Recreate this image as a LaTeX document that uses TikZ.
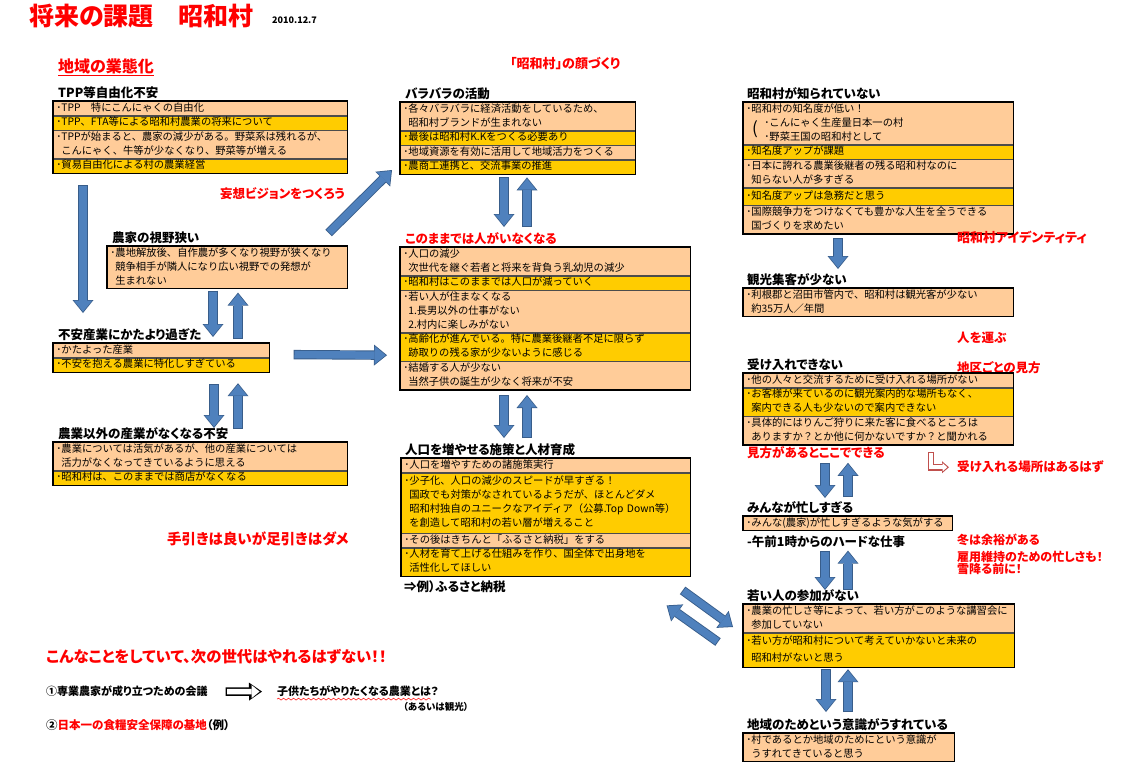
\documentclass[tikz,border=0pt]{standalone}
\usepackage{fontspec}
\setmainfont{Noto Sans CJK JP}
\newfontfamily\jpp[RawFeature=+palt]{Noto Sans CJK JP}
\usetikzlibrary{arrows.meta, positioning, decorations.pathmorphing}
\definecolor{peach}{HTML}{FFCC99}
\definecolor{gold}{HTML}{FFCC00}
\definecolor{barfill}{HTML}{4F81BD}
\definecolor{bardark}{HTML}{385D8A}
\definecolor{lred}{HTML}{C0504D}
\newcommand\rowtext{\fontsize{10.3}{14}\selectfont}
\newcommand\hdtext{\jpp\bfseries\fontsize{12.5}{14}\selectfont}
\newcommand\nxt{\\\hspace*{5pt}}

\begin{document}
\begin{tikzpicture}[
        x=1pt, y=-1pt,
        boxrow/.style={anchor=north west, text width=#1, inner xsep=3pt, inner ysep=0pt, align=left, draw=black!70, line width=0.6pt, font=\rowtext, execute at begin node=\strut, execute at end node=\strut},
        frame/.style={draw=black, line width=1.4pt},
        head/.style={font=\hdtext, inner sep=0pt},
        note/.style={font=\hdtext, text=red, inner sep=0pt, anchor=north west},
        barrow/.style={draw=barfill, line width=7.5pt, shorten <=0.9pt, shorten >=1.3pt, -{Triangle[width=18pt,length=11pt,line width=0pt]},
            preaction={draw=bardark, line width=9.3pt, shorten <=0pt, shorten >=0pt, -{Triangle[width=21pt,length=13pt,line width=0pt]}}},
        hollow/.style={draw=white, line width=5.5pt, shorten <=1.4pt, shorten >=2.4pt, -{Triangle[width=13pt,length=8pt,line width=0pt]},
            preaction={draw=black, line width=8.5pt, shorten <=0pt, shorten >=0pt, -{Triangle[width=18pt,length=13pt,line width=0pt]}}},
        lhollow/.style={draw=white, line width=4pt, shorten <=1.2pt, shorten >=1.8pt, -{Triangle[width=8pt,length=4.5pt,line width=0pt]},
            preaction={draw=lred, line width=6.6pt, shorten <=0pt, shorten >=0pt, -{Triangle[width=12pt,length=7pt,line width=0pt]}}}
    ]
        \fill[white] (0,0) rectangle (1133,776);
        \useasboundingbox (0,0) rectangle (1133,776);

        \node[note, font=\jpp\bfseries\fontsize{25}{28}\selectfont] (title) at (29,4) {将来の課題　昭和村};
        \node[note, text=black, font=\bfseries\fontsize{9}{10}\selectfont] (date) at (272,17) {2010.12.7};
        \node[note, font=\jpp\bfseries\fontsize{16}{18}\selectfont] (gyotai) at (58,59) {地域の業態化};
        \draw[red, line width=0.9pt] ([yshift=-1pt]gyotai.south west) -- ([yshift=-1pt]gyotai.south east);

        % left column
        \node[boxrow=288pt, fill=peach] (tpp1) at (53,101) {･TPP　特にこんにゃくの自由化};
        \node[boxrow=288pt, fill=gold, below right=0pt and 0pt of tpp1.south west] (tpp2) {･TPP、FTA等による昭和村農業の将来について};
        \node[boxrow=288pt, fill=peach, below right=0pt and 0pt of tpp2.south west] (tpp3) {･TPPが始まると、農家の減少がある。野菜系は残れるが、\nxt こんにゃく、牛等が少なくなり、野菜等が増える};
        \node[boxrow=288pt, fill=gold, below right=0pt and 0pt of tpp3.south west] (tpp4) {･貿易自由化による村の農業経営};
        \draw[frame] (tpp1.north west) rectangle (tpp4.south east);
        \node[head, above right=2pt and 5pt of tpp1.north west] (tpph) {TPP等自由化不安};

        \node[boxrow=234pt, fill=peach] (nouka1) at (107,246) {･農地解放後、自作農が多くなり視野が狭くなり\nxt 競争相手が隣人になり広い視野での発想が\nxt 生まれない};
        \draw[frame] (nouka1.north west) rectangle (nouka1.south east);
        \node[head, above right=2pt and 5pt of nouka1.north west] (noukah) {農家の視野狭い};

        \node[boxrow=210pt, fill=peach] (fuan1) at (53,343) {･かたよった産業};
        \node[boxrow=210pt, fill=gold, below right=0pt and 0pt of fuan1.south west] (fuan2) {･不安を抱える農業に特化しすぎている};
        \draw[frame] (fuan1.north west) rectangle (fuan2.south east);
        \node[head, above right=2pt and 5pt of fuan1.north west] (fuanh) {不安産業にかたより過ぎた};

        \node[boxrow=288pt, fill=peach] (gai1) at (53,442) {･農業については活気があるが、他の産業については\nxt 活力がなくなってきているように思える};
        \node[boxrow=288pt, fill=gold, below right=0pt and 0pt of gai1.south west] (gai2) {･昭和村は、このままでは商店がなくなる};
        \draw[frame] (gai1.north west) rectangle (gai2.south east);
        \node[head, above right=2pt and 5pt of gai1.north west] (gaih) {農業以外の産業がなくなる不安};

        \node[note] (mousou) at (220,187) {妄想ビジョンをつくろう};
        \node[note, font=\jpp\bfseries\fontsize{14.5}{16}\selectfont] (tebiki) at (167,532) {手引きは良いが足引きはダメ};

        % centre column
        \node[note, font=\jpp\bfseries\fontsize{13}{15}\selectfont] (kao) at (510,57) {「昭和村」の顔づくり};
        \node[boxrow=229pt, fill=peach] (bara1) at (400,102) {･各々バラバラに経済活動をしているため、\nxt 昭和村ブランドが生まれない};
        \node[boxrow=229pt, fill=gold, below right=0pt and 0pt of bara1.south west] (bara2) {･最後は昭和村K.Kをつくる必要あり};
        \node[boxrow=229pt, fill=peach, below right=0pt and 0pt of bara2.south west] (bara3) {･地域資源を有効に活用して地域活力をつくる};
        \node[boxrow=229pt, fill=gold, below right=0pt and 0pt of bara3.south west] (bara4) {･農商工連携と、交流事業の推進};
        \draw[frame] (bara1.north west) rectangle (bara4.south east);
        \node[head, above right=2pt and 5pt of bara1.north west] (barah) {バラバラの活動};

        \node[boxrow=284pt, fill=peach] (kono1) at (400,247) {･人口の減少\nxt 次世代を継ぐ若者と将来を背負う乳幼児の減少};
        \node[boxrow=284pt, fill=gold, below right=0pt and 0pt of kono1.south west] (kono2) {･昭和村はこのままでは人口が減っていく};
        \node[boxrow=284pt, fill=peach, below right=0pt and 0pt of kono2.south west] (kono3) {･若い人が住まなくなる\nxt 1.長男以外の仕事がない\nxt 2.村内に楽しみがない};
        \node[boxrow=284pt, fill=gold, below right=0pt and 0pt of kono3.south west] (kono4) {･高齢化が進んでいる。特に農業後継者不足に限らず\nxt 跡取りの残る家が少ないように感じる};
        \node[boxrow=284pt, fill=peach, below right=0pt and 0pt of kono4.south west] (kono5) {･結婚する人が少ない\nxt 当然子供の誕生が少なく将来が不安};
        \draw[frame] (kono1.north west) rectangle (kono5.south east);
        \node[head, text=red, above right=2pt and 5pt of kono1.north west] (konoh) {このままでは人がいなくなる};

        \node[boxrow=283pt, fill=peach] (zo1) at (401,458) {･人口を増やすための諸施策実行};
        \node[boxrow=283pt, fill=gold, inner ysep=2pt, below right=0pt and 0pt of zo1.south west] (zo2) {･少子化、人口の減少のスピードが早すぎる！\nxt 国政でも対策がなされているようだが、ほとんどダメ\nxt 昭和村独自のユニークなアイディア（公募.Top Down等）\nxt を創造して昭和村の若い層が増えること};
        \node[boxrow=283pt, fill=peach, below right=0pt and 0pt of zo2.south west] (zo3) {･その後はきちんと「ふるさと納税」をする};
        \node[boxrow=283pt, fill=gold, below right=0pt and 0pt of zo3.south west] (zo4) {･人材を育て上げる仕組みを作り、国全体で出身地を\nxt 活性化してほしい};
        \draw[frame] (zo1.north west) rectangle (zo4.south east);
        \node[head, above right=2pt and 4pt of zo1.north west] (zoh) {人口を増やせる施策と人材育成};
        \node[head, below right=4pt and 3pt of zo4.south west] (furusato) {⇒例）ふるさと納税};

        % right column
        \node[boxrow=264pt, fill=peach] (know1) at (743,102) {･昭和村の知名度が低い！\\\hspace*{18pt}･こんにゃく生産量日本一の村\\\hspace*{18pt}･野菜王国の昭和村として};
        \node[boxrow=264pt, fill=gold, below right=0pt and 0pt of know1.south west] (know2) {･知名度アップが課題};
        \node[boxrow=264pt, fill=peach, below right=0pt and 0pt of know2.south west] (know3) {･日本に誇れる農業後継者の残る昭和村なのに\nxt 知らない人が多すぎる};
        \node[boxrow=264pt, fill=gold, inner ysep=1.5pt, below right=0pt and 0pt of know3.south west] (know4) {･知名度アップは急務だと思う};
        \node[boxrow=264pt, fill=peach, below right=0pt and 0pt of know4.south west] (know5) {･国際競争力をつけなくても豊かな人生を全うできる\nxt 国づくりを求めたい};
        \draw[frame] (know1.north west) rectangle (know5.south east);
        \node[head, above right=2pt and 4pt of know1.north west] (knowh) {昭和村が知られていない};
        \node[inner sep=0pt, font=\fontsize{17}{17}\selectfont] (kparen) at ([xshift=12pt,yshift=-27pt]know1.north west) {(};
        \node[note, font=\jpp\bfseries\fontsize{13}{15}\selectfont] (ident) at (957,231) {昭和村アイデンティティ};

        \node[boxrow=264pt, fill=peach] (kanko1) at (743,288) {･利根郡と沼田市管内で、昭和村は観光客が少ない\nxt 約35万人／年間};
        \draw[frame] (kanko1.north west) rectangle (kanko1.south east);
        \node[head, above right=2pt and 4pt of kanko1.north west] (kankoh) {観光集客が少ない};
        \node[note] (hakobu) at (957,332) {人を運ぶ};
        \node[note] (chiku) at (957,361) {地区ごとの見方};

        \node[boxrow=264pt, fill=peach] (uke1) at (743,373) {･他の人々と交流するために受け入れる場所がない};
        \node[boxrow=264pt, fill=gold, below right=0pt and 0pt of uke1.south west] (uke2) {･お客様が来ているのに観光案内的な場所もなく、\nxt 案内できる人も少ないので案内できない};
        \node[boxrow=264pt, fill=peach, below right=0pt and 0pt of uke2.south west] (uke3) {･具体的にはりんご狩りに来た客に食べるところは\nxt ありますか？とか他に何かないですか？と聞かれる};
        \draw[frame] (uke1.north west) rectangle (uke3.south east);
        \node[head, above right=2pt and 4pt of uke1.north west] (ukeh) {受け入れできない};
        \node[note] (mikata) at (747,446) {見方があるとここでできる};
        \node[note] (basho) at (957,461) {受け入れる場所はあるはず};
        \coordinate (ltop) at (931,452);
        \draw[lhollow] (ltop) |- ([xshift=-8pt]basho.west);

        \node[boxrow=203pt, fill=peach] (min1) at (743,516) {･みんな(農家)が忙しすぎるような気がする};
        \draw[frame] (min1.north west) rectangle (min1.south east);
        \node[head, above right=2pt and 4pt of min1.north west] (minh) {みんなが忙しすぎる};
        \node[head, below right=5pt and 4pt of min1.south west] (gozen) {-午前1時からのハードな仕事};
        \node[note, font=\jpp\bfseries\fontsize{12}{14}\selectfont] (fuyu) at (957,534) {冬は余裕がある};
        \node[note, font=\jpp\bfseries\fontsize{12}{14}\selectfont] (koyou) at (957,551) {雇用維持のための忙しさも！};
        \node[note, font=\jpp\bfseries\fontsize{12}{14}\selectfont] (yuki) at (957,563) {雪降る前に！};

        \node[boxrow=265pt, fill=peach] (waka1) at (743,604) {･農業の忙しさ等によって、若い方がこのような講習会に\nxt 参加していない};
        \node[boxrow=265pt, fill=gold, font=\fontsize{10.3}{17}\selectfont, below right=0pt and 0pt of waka1.south west] (waka2) {･若い方が昭和村について考えていかないと未来の\nxt 昭和村がないと思う};
        \draw[frame] (waka1.north west) rectangle (waka2.south east);
        \node[head, above right=2pt and 4pt of waka1.north west] (wakah) {若い人の参加がない};

        \node[boxrow=205pt, fill=peach] (chi1) at (743,733) {･村であるとか地域のためにという意識が\nxt うすれてきていると思う};
        \draw[frame] (chi1.north west) rectangle (chi1.south east);
        \node[head, above right=2pt and 4pt of chi1.north west] (chih) {地域のためという意識がうすれている};

        % bottom notes
        \node[note, font=\jpp\bfseries\fontsize{15.4}{17}\selectfont] (konna) at (46,649) {こんなことをしていて、次の世代はやれるはずない！！};
        \node[note, text=black, font=\jpp\bfseries\fontsize{11}{13}\selectfont] (kaigi) at (46,686) {①専業農家が成り立つための会議};
        \node[note, text=black, font=\jpp\bfseries\fontsize{11}{13}\selectfont] (kodomo) at (277,686) {子供たちがやりたくなる農業とは？};
        \draw[red, line width=0.5pt, decorate, decoration={snake, amplitude=1pt, segment length=5pt}] ([yshift=-2pt]kodomo.south west) -- ([yshift=-2pt,xshift=-8pt]kodomo.south east);
        \node[note, text=black, font=\jpp\bfseries\fontsize{9.5}{11}\selectfont] (kankou) at (403,702) {（あるいは観光）};
        \node[note, text=black, font=\jpp\bfseries\fontsize{11.5}{13}\selectfont] (kichi) at (46,719) {②\textcolor{red}{日本一の食糧安全保障の基地}（例）};
        \draw[hollow] ([xshift=18pt]kaigi.east) -- ([xshift=-15pt]kodomo.west);

        % block arrows
        \draw[barrow] ([xshift=30pt,yshift=-12pt]tpp4.south west) -- ([xshift=30pt,yshift=30pt]fuan1.north west);
        \draw[barrow] ([xshift=106pt,yshift=-2pt]nouka1.south west) -- ([xshift=160pt,yshift=6pt]fuan1.north west);
        \draw[barrow] ([xshift=185pt,yshift=4pt]fuan1.north west) -- ([xshift=131pt,yshift=-4pt]nouka1.south west);
        \draw[barrow] ([xshift=161pt,yshift=-12pt]fuan2.south west) -- ([xshift=161pt,yshift=14pt]gai1.north west);
        \draw[barrow] ([xshift=185pt,yshift=13pt]gai1.north west) -- ([xshift=185pt,yshift=-11pt]fuan2.south west);
        \draw[barrow] ([xshift=24pt,yshift=3pt]fuan1.south east) -- ([xshift=-13pt,yshift=-65pt]kono3.north west);
        \draw[barrow] ([xshift=-19pt,yshift=13pt]nouka1.north east) -- ([xshift=-8pt,yshift=-68pt]bara1.north west);
        \draw[barrow] ([xshift=104pt,yshift=-3pt]bara4.south west) -- ([xshift=104pt,yshift=20pt]kono1.north west);
        \draw[barrow] ([xshift=127pt,yshift=20pt]kono1.north west) -- ([xshift=127pt,yshift=-3pt]bara4.south west);
        \draw[barrow] ([xshift=104pt,yshift=-5pt]kono5.south west) -- ([xshift=103pt,yshift=20pt]zo1.north west);
        \draw[barrow] ([xshift=126pt,yshift=20pt]zo1.north west) -- ([xshift=127pt,yshift=-5pt]kono5.south west);
        \draw[barrow] ([xshift=-8pt,yshift=-14pt]zo4.south east) -- ([xshift=-10pt,yshift=-23pt]waka1.north west);
        \draw[barrow] ([xshift=-25pt,yshift=-38pt]waka1.north west) -- ([xshift=-24pt,yshift=-29pt]zo4.south east);
        \draw[barrow] ([xshift=95pt,yshift=-4pt]know5.south west) -- ([xshift=95pt,yshift=19pt]kanko1.north west);
        \draw[barrow] ([xshift=82pt,yshift=-18pt]uke3.south west) -- ([xshift=82pt,yshift=18pt]min1.north west);
        \draw[barrow] ([xshift=105pt,yshift=19pt]min1.north west) -- ([xshift=105pt,yshift=-18pt]uke3.south west);
        \draw[barrow] ([xshift=82pt,yshift=-20pt]min1.south west) -- ([xshift=82pt,yshift=14pt]waka1.north west);
        \draw[barrow] ([xshift=105pt,yshift=14pt]waka1.north west) -- ([xshift=105pt,yshift=-20pt]min1.south west);
        \draw[barrow] ([xshift=83pt,yshift=-2pt]waka2.south west) -- ([xshift=83pt,yshift=21pt]chi1.north west);
        \draw[barrow] ([xshift=105pt,yshift=21pt]chi1.north west) -- ([xshift=105pt,yshift=-2pt]waka2.south west);
    \end{tikzpicture}
\end{document}
